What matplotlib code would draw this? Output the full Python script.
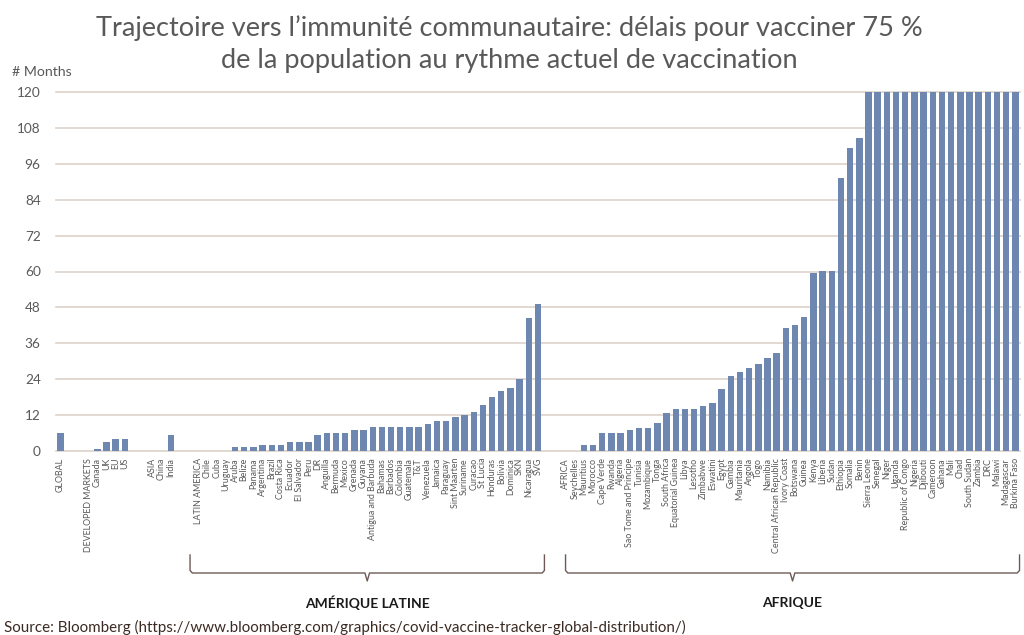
import matplotlib
matplotlib.use("Agg")
import matplotlib.pyplot as plt
from matplotlib.lines import Line2D
import matplotlib.transforms as mtransforms

plt.rcParams['font.family'] = ['Lato', 'DejaVu Sans']

categories = [
    "GLOBAL", "", "", "DEVELOPED MARKETS", "Canada", "UK", "EU", "US", "", "",
    "ASIA", "China", "India", "", "",
    "LATIN AMERICA", "Chile", "Cuba", "Uruguay", "Aruba", "Belize", "Panama",
    "Argentina", "Brazil", "Costa Rica", "Ecuador", "El Salvador", "Peru", "DR",
    "Anguilla", "Bermuda", "Mexico", "Grenada", "Guyana", "Antigua and Barbuda",
    "Bahamas", "Barbados", "Colombia", "Guatemala", "T&T", "Venezuela", "Jamaica",
    "Paraguay", "Sint Maarten", "Suriname", "Curacao", "St Lucia", "Honduras",
    "Bolivia", "Dominica", "SKN", "Nicaragua", "SVG", "", "",
    "AFRICA", "Seychelles", "Mauritius", "Morocco", "Cape Verde", "Rwanda", "Algeria",
    "Sao Tome and Principe", "Tunisia", "Mozambique", "Tonga", "South Africa",
    "Equatorial Guinea", "Libya", "Lesotho", "Zimbabwe", "Eswatini", "Egypt",
    "Gambia", "Mauritania", "Angola", "Togo", "Namibia", "Central African Republic",
    "Ivory Coast", "Botswana", "Guinea", "Kenya", "Liberia", "Sudan", "Ethiopia",
    "Somalia", "Benin", "Sierra Leone", "Senegal", "Niger", "Uganda",
    "Republic of Congo", "Nigeria", "Djibouti", "Cameroon", "Gahana", "Mali", "Chad",
    "South Sudan", "Zambia", "DRC", "Malawi", "Madagascar", "Burkina Faso",
]

months = [
    6.1, 0, 0, 0, 0.8, 3.1, 4.0, 4.0, 0, 0,
    0, 0, 5.3, 0, 0,
    0, 0, 0, 0, 1.2, 1.2, 1.2,
    1.9, 1.9, 1.9, 3.1, 3.1, 3.1, 5.4,
    6.1, 6.1, 6.1, 7.0, 7.0, 7.9,
    7.9, 7.9, 7.9, 7.9, 7.9, 9.0, 10.1,
    10.1, 11.3, 12.0, 13.0, 15.3, 17.9,
    20.0, 21.0, 24.2, 44.6, 49.2, 0, 0,
    0, 0, 2.0, 2.0, 6.1, 6.1, 6.1,
    6.9, 7.8, 7.8, 9.2, 12.8,
    14.0, 14.0, 14.0, 15.1, 16.2, 20.7,
    25.0, 26.5, 27.6, 29.0, 31.0, 32.6,
    41.0, 42.1, 44.9, 59.4, 60.2, 60.2, 91.3,
    101.3, 104.7, 120, 120, 120, 120,
    120, 120, 120, 120, 120, 120, 120,
    120, 120, 120, 120, 120, 120,
]

yticks = [0, 12, 24, 36, 48, 60, 72, 84, 96, 108, 120]

groups = [("AMÉRIQUE LATINE", "LATIN AMERICA", "SVG"),
          ("AFRIQUE", "AFRICA", "Burkina Faso")]

title_line1 = "Trajectoire vers l\u2019immunité communautaire: délais pour vacciner 75 %"
title_line2 = "de la population au rythme actuel de vaccination"
source = "Source: Bloomberg (https://www.bloomberg.com/graphics/covid-vaccine-tracker-global-distribution/)"

BAR = "#6d87b0"
GRID = "#ddd2c9"
TXT = "#595959"
BRACE = "#6e5a55"

fig = plt.figure(figsize=(10.24, 6.35), dpi=100)
ax = fig.add_axes([56 / 1024, 1 - 451 / 635, 964 / 1024, 359 / 635])

x = list(range(len(categories)))
ax.bar(x, months, width=0.7, color=BAR, zorder=3)
ax.set_xlim(-0.5, len(categories) - 0.5)
ax.set_ylim(0, 120)
ax.set_yticks(yticks)
ax.set_yticklabels([str(t) for t in yticks], fontsize=9.8, color=TXT)
ax.yaxis.grid(True, color=GRID, linewidth=1.2, zorder=0)
ax.set_axisbelow(True)
for s in ["top", "right", "left", "bottom"]:
    ax.spines[s].set_visible(False)
ax.tick_params(axis="y", length=0, pad=11)
ax.set_xticks(x)
ax.set_xticklabels(categories, rotation=90, fontsize=6.4, color=TXT, va="top", ha="center")
ax.tick_params(axis="x", length=0, pad=5)
for gl in ax.get_ygridlines():
    gl.set_clip_on(False)

fig.text(0.497, 0.956, title_line1, ha="center", va="center", fontsize=19.5, color=TXT)
fig.text(0.497, 0.905, title_line2, ha="center", va="center", fontsize=19.5, color=TXT)
fig.text(12 / 1024, 1 - 72 / 635, "# Months", ha="left", va="center", fontsize=10.2, color=TXT)
fig.text(4 / 1024, 1 - 627 / 635, source, ha="left", va="center", fontsize=10.9,
         color="#3a2a22")

# braces
trans = mtransforms.blended_transform_factory(ax.transData, fig.transFigure)
y_top = 1 - 555 / 635
y_bar = 1 - 573 / 635
y_tip = 1 - 581 / 635
r = 0.004
brace_pad = [(-0.9, 0.7), (0.0, 0.45)]
for (label, first, last), (pl, pr) in zip(groups, brace_pad):
    i0 = categories.index(first) + pl
    i1 = categories.index(last) + pr
    c = (i0 + i1) / 2
    dx = 0.25
    xs = [i0, i0, i0 + dx, c - dx, c, c + dx, i1 - dx, i1, i1]
    ys = [y_top, y_bar + r, y_bar, y_bar, y_tip, y_bar, y_bar, y_bar + r, y_top]
    fig.add_artist(Line2D(xs, ys, transform=trans, color=BRACE, linewidth=1.0))
    fig.text(c, 1 - 603 / 635, label, transform=trans, ha="center", va="center",
             fontsize=10, fontweight="bold", color="#1a1a1a")

fig.savefig("out.png", dpi=100, facecolor="white")
